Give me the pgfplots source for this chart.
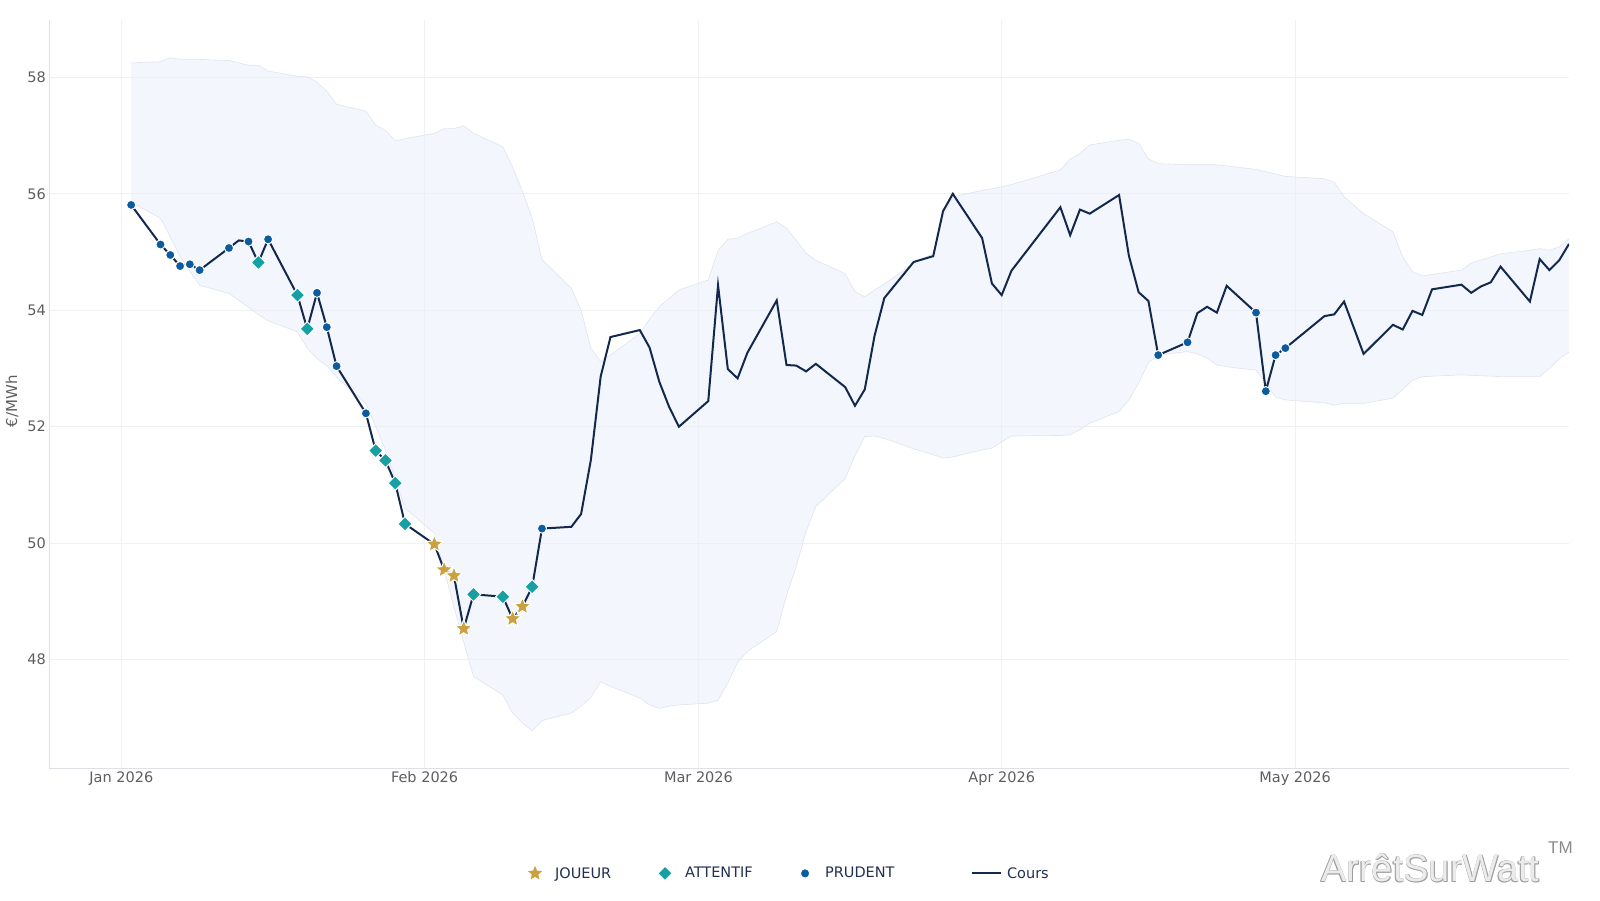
\documentclass[border=0pt]{standalone}
\usepackage{fontspec}
\setmainfont{DejaVu Sans}
\newfontfamily\wmfont{Liberation Sans}
\usepackage{pgfplots}
\pgfplotsset{compat=1.18}
\usepackage{pgfplotstable}
\usepgfplotslibrary{fillbetween}

\definecolor{coursc}{HTML}{12294D}
\definecolor{prudc}{HTML}{0B5C9E}
\definecolor{attc}{HTML}{16A0A4}
\definecolor{jouc}{HTML}{C9A23F}
\definecolor{bandc}{HTML}{E9EEF9}
\definecolor{bandedge}{HTML}{DFE4F1}
\definecolor{gridc}{HTML}{F0F1F4}
\definecolor{axisc}{HTML}{DDE0E5}
\definecolor{tickc}{HTML}{5E5E5E}
\definecolor{legc}{HTML}{1F3050}

% filled five-pointed star
\pgfdeclareplotmark{fstar}{%
  \pgfpathmoveto{\pgfqpointpolar{90}{\pgfplotmarksize}}%
  \pgfpathlineto{\pgfpointscale{0.45}{\pgfqpointpolar{126}{\pgfplotmarksize}}}%
  \pgfpathlineto{\pgfqpointpolar{162}{\pgfplotmarksize}}%
  \pgfpathlineto{\pgfpointscale{0.45}{\pgfqpointpolar{198}{\pgfplotmarksize}}}%
  \pgfpathlineto{\pgfqpointpolar{234}{\pgfplotmarksize}}%
  \pgfpathlineto{\pgfpointscale{0.45}{\pgfqpointpolar{270}{\pgfplotmarksize}}}%
  \pgfpathlineto{\pgfqpointpolar{306}{\pgfplotmarksize}}%
  \pgfpathlineto{\pgfpointscale{0.45}{\pgfqpointpolar{342}{\pgfplotmarksize}}}%
  \pgfpathlineto{\pgfqpointpolar{18}{\pgfplotmarksize}}%
  \pgfpathlineto{\pgfpointscale{0.45}{\pgfqpointpolar{54}{\pgfplotmarksize}}}%
  \pgfpathclose
  \pgfusepathqfillstroke}
% square diamond
\pgfdeclareplotmark{fdiamond}{%
  \pgfpathmoveto{\pgfqpoint{0pt}{\pgfplotmarksize}}%
  \pgfpathlineto{\pgfqpoint{\pgfplotmarksize}{0pt}}%
  \pgfpathlineto{\pgfqpoint{0pt}{-\pgfplotmarksize}}%
  \pgfpathlineto{\pgfqpoint{-\pgfplotmarksize}{0pt}}%
  \pgfpathclose
  \pgfusepathqfillstroke}

% legend symbols: one mark in a fixed-width cell, or a short line
\pgfplotsset{
  mlegend/.style={legend image code/.code={%
    \pgfpathrectangle{\pgfpoint{0pt}{-6pt}}{\pgfpoint{20pt}{12pt}}\pgfusepath{discard}%
    \draw[##1] plot coordinates {(10pt,0pt)};}},
  llegend/.style={legend image code/.code={%
    \pgfpathrectangle{\pgfpoint{0pt}{-6pt}}{\pgfpoint{30pt}{12pt}}\pgfusepath{discard}%
    \draw[##1] (0pt,0pt) -- (29pt,0pt);}},
}

% day counted from 1 Jan 2026, price in EUR/MWh
\pgfplotstableread{
d v
1 55.81
4 55.13
5 54.95
6 54.76
7 54.79
8 54.69
11 55.07
12 55.20
13 55.18
14 54.82
15 55.22
18 54.26
19 53.68
20 54.30
21 53.71
22 53.04
25 52.23
26 51.59
27 51.42
28 51.03
29 50.33
32 49.98
33 49.54
34 49.44
35 48.53
36 49.12
39 49.08
40 48.70
41 48.91
42 49.25
43 50.25
46 50.28
47 50.50
48 51.43
49 52.86
50 53.54
53 53.66
54 53.36
55 52.77
56 52.34
57 52.00
60 52.44
61 54.43
62 52.99
63 52.83
64 53.27
67 54.17
68 53.06
69 53.05
70 52.95
71 53.08
74 52.68
75 52.36
76 52.64
77 53.56
78 54.21
81 54.83
82 54.88
83 54.93
84 55.70
85 56.00
88 55.24
89 54.46
90 54.26
91 54.68
96 55.77
97 55.29
98 55.73
99 55.66
102 55.98
103 54.94
104 54.31
105 54.16
106 53.23
109 53.45
110 53.95
111 54.06
112 53.96
113 54.42
116 53.96
117 52.61
118 53.23
119 53.35
123 53.90
124 53.93
125 54.15
127 53.25
130 53.75
131 53.67
132 53.99
133 53.92
134 54.36
137 54.44
138 54.30
139 54.41
140 54.48
141 54.75
144 54.15
145 54.88
146 54.69
147 54.86
148 55.14
}\cours

\pgfplotstableread{
d v
32 49.98
33 49.54
34 49.44
35 48.53
40 48.70
41 48.91
}\joueur

\pgfplotstableread{
d v
14 54.82
18 54.26
19 53.68
26 51.59
27 51.42
28 51.03
29 50.33
36 49.12
39 49.08
42 49.25
}\attentif

\pgfplotstableread{
d v
1 55.81
4 55.13
5 54.95
6 54.76
7 54.79
8 54.69
11 55.07
13 55.18
15 55.22
20 54.30
21 53.71
22 53.04
25 52.23
43 50.25
106 53.23
109 53.45
116 53.96
117 52.61
118 53.23
119 53.35
}\prudent

\pgfplotstableread{
d v
1 58.25
4 58.27
5 58.34
6 58.31
8 58.31
11 58.29
13 58.21
14 58.21
15 58.11
18 58.02
19 58.01
20 57.92
21 57.76
22 57.54
25 57.42
26 57.18
27 57.09
28 56.91
29 56.95
32 57.04
33 57.12
34 57.12
35 57.17
36 57.04
39 56.81
40 56.46
41 56.05
42 55.58
43 54.87
46 54.38
47 54.00
48 53.35
49 53.12
50 53.23
53 53.60
54 53.85
55 54.06
57 54.35
60 54.52
61 55.03
62 55.22
63 55.24
64 55.32
67 55.52
68 55.41
69 55.20
70 54.98
71 54.86
74 54.63
75 54.32
76 54.23
77 54.35
78 54.45
81 54.81
83 54.98
84 55.61
85 55.95
88 56.06
90 56.12
91 56.16
96 56.41
97 56.60
98 56.69
99 56.84
102 56.92
103 56.94
104 56.87
105 56.60
106 56.52
109 56.50
112 56.50
116 56.42
119 56.30
123 56.26
124 56.20
125 55.95
127 55.66
130 55.35
131 54.92
132 54.66
133 54.59
137 54.69
138 54.81
141 54.97
144 55.03
145 55.06
146 55.03
147 55.09
148 55.23
}\bandup

\pgfplotstableread{
d v
1 55.86
4 55.58
5 55.26
6 54.92
8 54.43
11 54.29
14 53.93
15 53.82
18 53.63
19 53.35
20 53.17
21 53.05
22 52.85
25 52.40
26 52.00
27 51.60
29 50.60
32 50.17
33 49.54
34 48.90
35 48.30
36 47.71
39 47.39
40 47.08
41 46.91
42 46.78
43 46.95
46 47.08
47 47.20
48 47.35
49 47.62
50 47.54
53 47.34
54 47.22
55 47.16
56 47.20
57 47.22
60 47.25
61 47.30
62 47.60
63 47.95
64 48.14
67 48.48
68 49.10
69 49.60
70 50.20
71 50.63
74 51.11
75 51.50
76 51.83
77 51.84
78 51.80
81 51.62
83 51.52
84 51.46
85 51.48
88 51.60
89 51.63
90 51.74
91 51.84
96 51.85
97 51.86
98 51.95
99 52.06
102 52.26
103 52.46
104 52.75
105 53.10
106 53.23
109 53.29
110 53.25
111 53.18
112 53.06
113 53.03
116 52.97
117 52.75
118 52.51
119 52.46
123 52.41
124 52.37
125 52.40
127 52.40
130 52.49
131 52.64
132 52.80
133 52.86
137 52.89
141 52.86
144 52.86
145 52.86
146 53.00
147 53.17
148 53.28
}\bandlo

\begin{document}
\begin{tikzpicture}[x=1pt,y=1pt]
% page frame, 1600 x 900
\path (0,0) rectangle (1600,900);
\begin{axis}[
  at={(49pt,131.6pt)}, anchor=south west,
  scale only axis, width=1520pt, height=748pt,
  xmin=-7.4, xmax=148, ymin=46.13, ymax=58.98,
  axis x line*=bottom, axis y line*=left,
  axis line style={draw=axisc, line width=1pt},
  xtick={0,31,59,90,120},
  xticklabels={Jan 2026,Feb 2026,Mar 2026,Apr 2026,May 2026},
  ytick={48,50,52,54,56,58},
  major tick length=0pt,
  grid=major, grid style={draw=gridc, line width=1pt},
  /pgf/number format/assume math mode=true,
  ticklabel style={font=\fontsize{14.5}{17}\selectfont, text=tickc},
  xticklabel style={inner sep=0pt, anchor=north, yshift=-3pt},
  yticklabel style={inner sep=0pt, anchor=east, xshift=-3pt},
  ylabel={€/MWh},
  ylabel style={at={(axis description cs:-0.0242,0.491)}, anchor=center,
    font=\fontsize{15}{18}\selectfont, text=tickc},
  legend columns=4,
  legend style={at={(axis description cs:0.3132,-0.1398)}, anchor=west,
    draw=none, fill=none, inner sep=0pt, outer sep=0pt, column sep=10pt,
    nodes={inner sep=0pt, font=\fontsize{14.5}{17}\selectfont, text=legc},
    cells={anchor=west}},
]
% min/max band
\addplot[name path=up, draw=bandedge, line width=0.6pt, forget plot] table[x=d,y=v] {\bandup};
\addplot[name path=lo, draw=bandedge, line width=0.6pt, forget plot] table[x=d,y=v] {\bandlo};
\addplot[fill=bandc, fill opacity=0.55, draw=none, forget plot] fill between[of=up and lo];
% price
\addplot[coursc, line width=2pt, forget plot] table[x=d,y=v] {\cours};
% signals
\addplot[only marks, mark=*, mark size=4.6pt, mark options={fill=prudc, draw=white, line width=1pt}, forget plot] table[x=d,y=v] {\prudent};
\addplot[only marks, mark=fdiamond, mark size=7.2pt, mark options={fill=attc, draw=white, line width=1pt}, forget plot] table[x=d,y=v] {\attentif};
\addplot[only marks, mark=fstar, mark size=9pt, mark options={fill=jouc, draw=white, line width=1pt}, forget plot] table[x=d,y=v] {\joueur};

\addlegendimage{mlegend, only marks, mark=fstar, mark size=7pt, mark options={fill=jouc, draw=jouc, line width=0.3pt}}
\addlegendentry{\makebox[90pt][l]{JOUEUR}}
\addlegendimage{mlegend, only marks, mark=fdiamond, mark size=6pt, mark options={fill=attc, draw=attc, line width=0.3pt}}
\addlegendentry{\makebox[100pt][l]{ATTENTIF}}
\addlegendimage{mlegend, only marks, mark=*, mark size=3.8pt, mark options={fill=prudc, draw=prudc, line width=0.3pt}}
\addlegendentry{\makebox[136pt][l]{PRUDENT}}
\addlegendimage{llegend, coursc, line width=2pt}
\addlegendentry{\hspace*{-5pt}Cours}
\end{axis}
% brand mark
\foreach \dx/\dy in {0.6/-0.6,-0.4/0.4,0.5/0.4,-0.4/-0.5}
  \node[anchor=base west, inner sep=0pt, text=black!38] at (1321+\dx,18.3+\dy) {\wmfont\fontsize{38}{43}\selectfont ArrêtSurWatt};
\node[anchor=base west, inner sep=0pt, text=black!8] at (1321,18.3) {\wmfont\fontsize{38}{43}\selectfont ArrêtSurWatt};
\node[anchor=base west, inner sep=0pt, text=black!45] at (1548,47) {\wmfont\fontsize{17}{20}\selectfont TM};
\end{tikzpicture}
\end{document}
